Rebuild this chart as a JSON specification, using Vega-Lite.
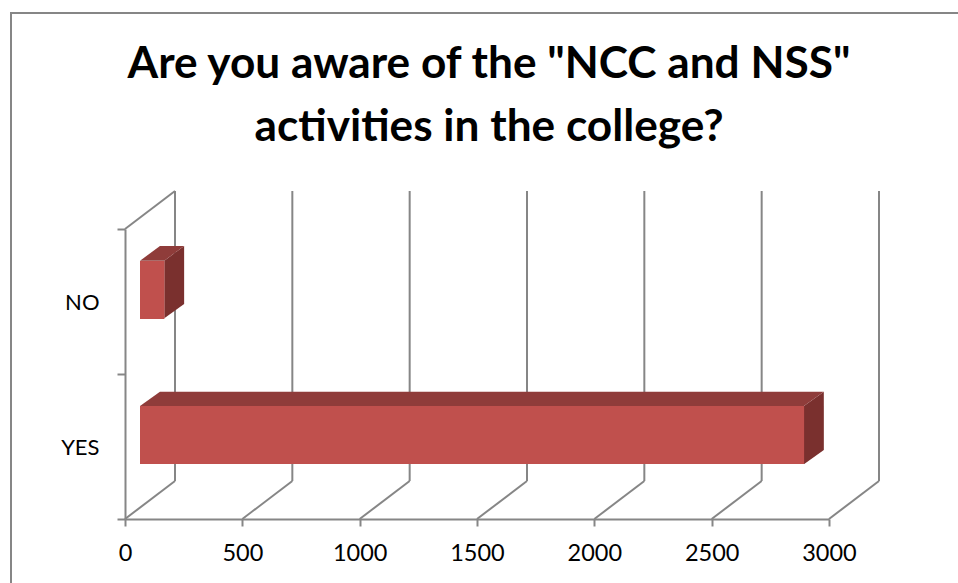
{
"$schema":"https://vega.github.io/schema/vega-lite/v6.json",
"width":952,"height":575,
"autosize":{"type":"none"},
"padding":{"left":11,"top":13,"right":-5,"bottom":-5},
"background":"#ffffff",
"view":{"stroke":"#868686","strokeWidth":2,"fill":"#ffffff"},
"title":{"text":["Are you aware of the \"NCC and NSS\"","activities in the college?"],"font":"Lato","fontWeight":"bold","fontSize":44.2,"lineHeight":63,"color":"#000000","anchor":"middle","frame":"group","baseline":"top","dx":2,"dy":152},
"config":{"axis":{"labelFont":"Lato","labelFontSize":22,"labelColor":"#000000","domainColor":"#868686","tickColor":"#868686","domainWidth":2,"tickWidth":2,"grid":false,"title":null}},
"datasets":{
"bars":[{"answer":"YES","count":2830},{"answer":"NO","count":104}],
"ticks":[{"value":0},{"value":500},{"value":1000},{"value":1500},{"value":2000},{"value":2500},{"value":3000}],
"floor":[{"value":0,"level":0},{"value":500,"level":0},{"value":1000,"level":0},{"value":1500,"level":0},{"value":2000,"level":0},{"value":2500,"level":0},{"value":3000,"level":0},{"value":0,"level":2}],
"top":[{"answer":"YES","a":64,"b":2893,"h":0.779},{"answer":"YES","a":149,"b":2978,"h":0.878},{"answer":"NO","a":64,"b":167.5,"h":1.781},{"answer":"NO","a":149,"b":252,"h":1.883}],
"side":[{"answer":"YES","x":2893,"lo":0.377,"hi":0.779},{"answer":"YES","x":2978,"lo":0.476,"hi":0.878},{"answer":"NO","x":167.5,"lo":1.384,"hi":1.781},{"answer":"NO","x":252,"lo":1.483,"hi":1.883}]
},
"resolve":{"scale":{"y":"independent"},"axis":{"y":"independent"}},
"layer":[
{"data":{"name":"ticks"},
 "mark":{"type":"rule","color":"#868686","strokeWidth":2,"xOffset":50,"yOffset":-38,"x2Offset":50,"y2Offset":-38},
 "encoding":{
  "x":{"field":"value","type":"quantitative","scale":{"domain":[0,3000],"range":[114,818],"nice":false,"zero":false},"axis":{"values":[0,500,1000,1500,2000,2500,3000],"format":"d","orient":"bottom","offset":-69,"tickSize":7,"labelFontSize":23.5,"labelPadding":15,"labelFlush":false,"labelOverlap":false}},
  "y":{"datum":0,"type":"quantitative","scale":{"domain":[0,2],"range":[506,216],"nice":false,"zero":false},"axis":null},
  "y2":{"datum":2}}},
{"data":{"name":"floor"},
 "mark":{"type":"rule","color":"#868686","strokeWidth":2,"x2Offset":50,"y2Offset":-38},
 "encoding":{
  "x":{"field":"value","type":"quantitative"},
  "x2":{"field":"value"},
  "y":{"field":"level","type":"quantitative","scale":{"domain":[0,2],"range":[506,216],"nice":false,"zero":false},"axis":null},
  "y2":{"field":"level"}}},
{"data":{"name":"side"},
 "mark":{"type":"area","orient":"vertical","color":"#7A302E","opacity":1},
 "encoding":{
  "x":{"field":"x","type":"quantitative"},
  "y":{"field":"hi","type":"quantitative","scale":{"domain":[0,2],"range":[506,216],"nice":false,"zero":false},"axis":null},
  "y2":{"field":"lo"},
  "detail":{"field":"answer"}}},
{"data":{"name":"top"},
 "mark":{"type":"area","orient":"horizontal","color":"#8F3C3A","opacity":1},
 "encoding":{
  "x":{"field":"a","type":"quantitative"},
  "x2":{"field":"b"},
  "y":{"field":"h","type":"quantitative","scale":{"domain":[0,2],"range":[506,216],"nice":false,"zero":false},"axis":null},
  "detail":{"field":"answer"}}},
{"data":{"name":"bars"},
 "mark":{"type":"bar","color":"#C0504D","opacity":1,"xOffset":15,"yOffset":-11.5,"x2Offset":15,"height":{"band":0.4}},
 "encoding":{
  "x":{"field":"count","type":"quantitative"},
  "y":{"field":"answer","type":"nominal","sort":["NO","YES"],"scale":{"domain":["NO","YES"],"range":[216,506],"paddingInner":0,"paddingOuter":0},"axis":{"orient":"left","offset":-114,"tickBand":"extent","tickSize":8,"labelPadding":18,"labelAngle":0,"labelOffset":1}}}}
]
}
